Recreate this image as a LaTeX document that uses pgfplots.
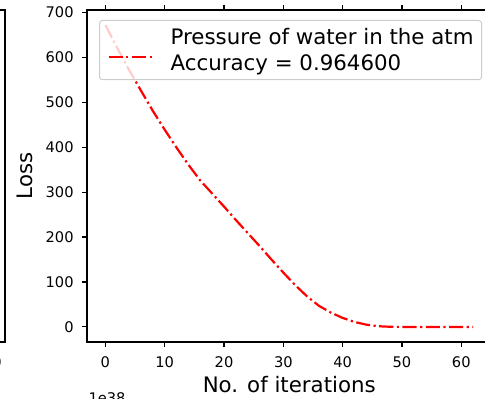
\documentclass[border=0pt]{standalone}
\usepackage{fontspec}
\setmainfont{DejaVu Sans}
\usepackage{pgfplots}
\pgfplotsset{compat=1.18}
\begin{document}
\begin{tikzpicture}
\path[use as bounding box] (0bp,0bp) rectangle (485bp,399bp);
\clip (0bp,0bp) rectangle (485bp,399bp);
% partial left axis (cut by the picture border)
\begin{axis}[
  at={(5bp,57bp)}, anchor=south east,
  width=400bp, height=332bp, scale only axis,
  xmin=-1, xmax=0.02, ymin=0, ymax=1,
  xtick={0}, ytick=\empty,
  tick align=outside, major tick length=5.2bp,
  axis line style={line width=1.18bp},
  every tick/.style={black, line width=1.18bp},
  /pgf/number format/assume math mode=true,
  tick label style={font=\fontsize{14.7}{17}\selectfont},
  xticklabel style={anchor=north, inner sep=0pt, yshift=-9.5bp},
]
\end{axis}
\node[anchor=north, inner sep=0pt, font=\fontsize{14.7}{17}\selectfont] at (107bp,7bp) {1e38};
% main axis
\begin{axis}[
  at={(87bp,57bp)}, anchor=south west,
  width=404.5bp, height=332bp, scale only axis,
  xmin=-3.1, xmax=65.1, ymin=-33.6, ymax=705.6,
  xtick={0,10,...,60}, ytick={0,100,...,700},
  tick align=outside, major tick length=5.2bp,
  axis line style={line width=1.18bp},
  every tick/.style={black, line width=1.18bp},
  /pgf/number format/assume math mode=true,
  tick label style={font=\fontsize{14.7}{17}\selectfont},
  xticklabel style={anchor=north, inner sep=0pt, yshift=-9.5bp},
  yticklabel style={anchor=east, inner sep=0pt, xshift=-8bp},
  xlabel={No. of iterations}, ylabel={Loss},
  every axis x label/.style={at={(axis description cs:0.5,-0.1506)}, anchor=base, font=\fontsize{21.4}{25}\selectfont},
  every axis y label/.style={at={(axis description cs:-0.1335,0.5)}, anchor=base, rotate=90, font=\fontsize{21.4}{25}\selectfont},
  legend style={at={(axis description cs:0.0297,0.970)}, anchor=north west,
    draw=black!20, line width=1bp, rounded corners=3bp,
    fill=white, fill opacity=0.8, draw opacity=1, text opacity=1,
    inner xsep=8bp, inner ysep=7.5bp,
    font=\fontsize{21.4}{26.7}\selectfont,
    nodes={inner sep=0pt}, column sep=18bp,
    cells={align=left, anchor=west}},
  legend image code/.code={\draw[#1] (0bp,-7bp) -- (43bp,-7bp);},
]
\addplot[red, line width=2.2bp, dash pattern=on 14.1bp off 3.5bp on 2.2bp off 3.5bp]
coordinates {
(0,672) (2,621) (4,572) (6,526) (8,481) (10,439) (12,399) (14,361) (16,326)
(18,297) (20,268) (22,238) (24,209) (26,180) (28,150) (30,121) (32,93)
(34,68) (36,47) (38,32) (40,20) (42,11) (44,5) (46,1.5) (48,0.3) (50,0)
(52,0) (54,0) (56,0) (58,0) (60,0) (62,0)
};
\addlegendentry{Pressure of water in the atm\\Accuracy = 0.964600}
\end{axis}
\end{tikzpicture}
\end{document}
